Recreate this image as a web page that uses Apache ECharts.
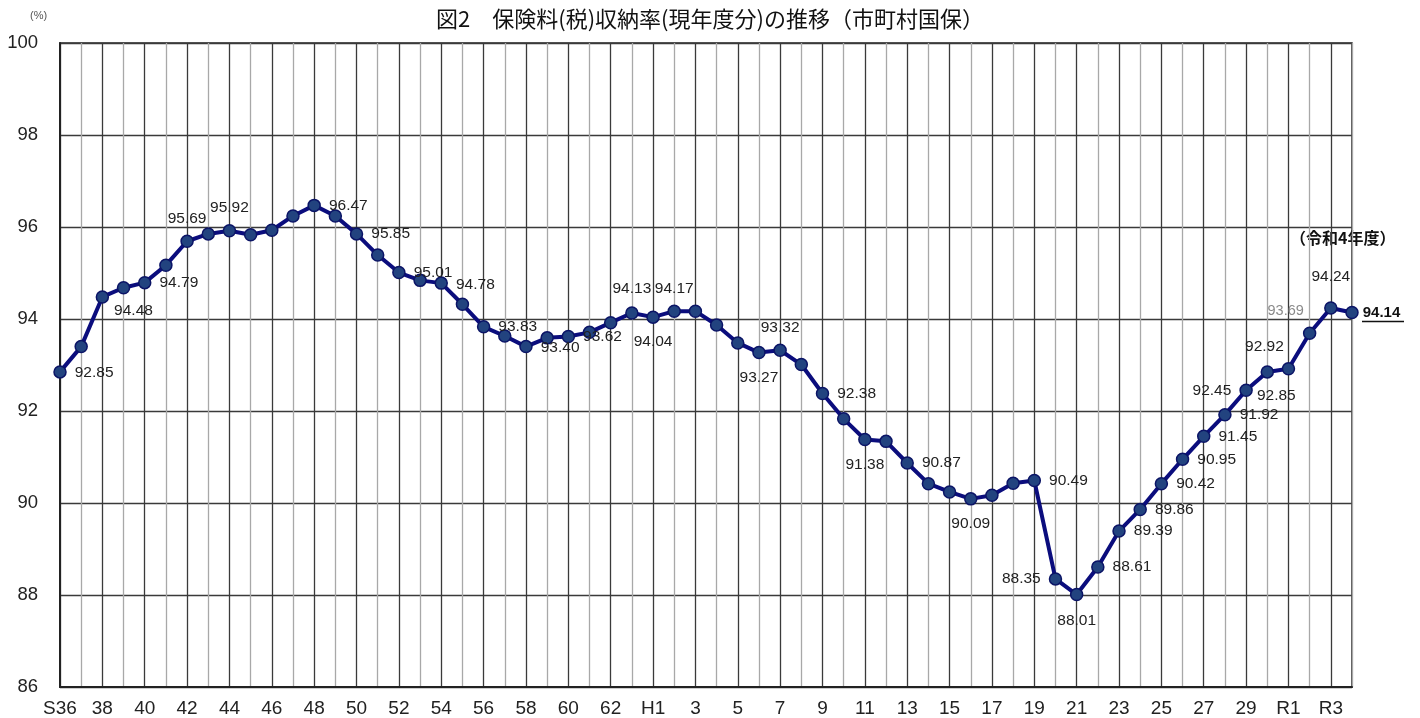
<!DOCTYPE html>
<html>
<head>
<meta charset="utf-8">
<script src="https://cdn.jsdelivr.net/npm/echarts@6/dist/echarts.min.js"></script>
<style>
html,body{margin:0;padding:0;background:#fff;}
#c{width:1420px;height:718px;}
</style>
</head>
<body>
<div id="c"></div>
<script>
// ---- data ----
const categories = [
  "S36","S37","S38","S39","S40","S41","S42","S43","S44","S45","S46","S47","S48","S49",
  "S50","S51","S52","S53","S54","S55","S56","S57","S58","S59","S60","S61","S62","S63",
  "H1","H2","H3","H4","H5","H6","H7","H8","H9","H10","H11","H12","H13","H14","H15",
  "H16","H17","H18","H19","H20","H21","H22","H23","H24","H25","H26","H27","H28","H29","H30",
  "R1","R2","R3","R4"
];
const tickLabels = [
  "S36","","38","","40","","42","","44","","46","","48","",
  "50","","52","","54","","56","","58","","60","","62","",
  "H1","","3","","5","","7","","9","","11","","13","","15",
  "","17","","19","","21","","23","","25","","27","","29","",
  "R1","","R3",""
];
const rates = [
  92.85, 93.40, 94.48, 94.68, 94.79, 95.17, 95.69, 95.85, 95.92, 95.83, 95.93, 96.24, 96.47, 96.24,
  95.85, 95.39, 95.01, 94.84, 94.78, 94.32, 93.83, 93.63, 93.40, 93.59, 93.62, 93.71, 93.92, 94.13,
  94.04, 94.17, 94.17, 93.87, 93.48, 93.27, 93.32, 93.01, 92.38, 91.83, 91.38, 91.34, 90.87, 90.42, 90.24,
  90.09, 90.17, 90.43, 90.49, 88.35, 88.01, 88.61, 89.39, 89.86, 90.42, 90.95, 91.45, 91.92, 92.45, 92.85,
  92.92, 93.69, 94.24, 94.14
];
const yTicks = [86, 88, 90, 92, 94, 96, 98, 100];
const titleText = "図2　保険料(税)収納率(現年度分)の推移（市町村国保）";
const noteText = "（令和4年度）";

// ---- label placement (style only) ----
const labelSpec = {
  0:['right',[0,1]], 2:['right',[-3,14]], 4:['right',[0,0]], 6:['top',[0,0]], 8:['top',[0,0]],
  12:['right',[0,0]], 14:['right',[0,0]], 16:['right',[0,0]], 18:['right',[0,2]], 20:['right',[0,0]],
  22:['right',[0,1]], 24:['right',[0,0]], 27:['top',[0,-2]], 28:['bottom',[0,0]], 29:['top',[0,0]],
  33:['bottom',[0,0]], 34:['top',[0,0]], 36:['right',[0,0]], 38:['bottom',[0,0]], 40:['right',[0,0]],
  43:['bottom',[0,0]], 46:['right',[0,0]], 47:['left',[0,0]], 48:['bottom',[0,1]], 49:['right',[0,0]],
  50:['right',[0,0]], 51:['right',[0,0]], 52:['right',[0,0]], 53:['right',[0,0]], 54:['right',[0,0]],
  55:['right',[0,0]], 56:['left',[0,0]], 57:['bottom',[9,-1]], 58:['top',[-24,1]], 59:['top',[-24,0]],
  60:['top',[0,-8]], 61:['right',[-4,0]]
};
const dist = {right:8, left:8, top:8, bottom:10};

const seriesData = rates.map((v, i) => {
  const s = labelSpec[i];
  if (!s) return {value: v, label: {show: false}};
  const lab = {
    show: true, position: s[0], distance: dist[s[0]], offset: s[1],
    formatter: (p) => p.value.toFixed(2),
    color: '#222', fontSize: 15.5, fontFamily: 'Liberation Sans, Arial, sans-serif'
  };
  if (i === 59) { lab.color = '#8a8a8a'; lab.fontSize = 14.5; }
  if (i === 61) { lab.fontWeight = 'bold'; lab.color = '#111'; lab.fontSize = 15; }
  return {value: v, label: lab};
});

const chart = echarts.init(document.getElementById('c'), null, {renderer: 'canvas'});
const baseGraphic = [
  {type: 'text', left: 30, top: 10, style: {text: '(%)', fontSize: 11, fill: '#555', fontFamily: 'Liberation Sans, sans-serif'}},
  {type: 'text', left: 1290, top: 230, style: {text: noteText, fontSize: 16, fontWeight: 'bold', fill: '#111', fontFamily: '"Noto Sans CJK JP", sans-serif'}}
];
chart.setOption({
  animation: false,
  backgroundColor: '#fff',
  title: {
    text: titleText, left: 'center', top: 3,
    textStyle: {fontFamily: '"Noto Sans CJK JP", sans-serif', fontSize: 22, fontWeight: 'normal', color: '#111'}
  },
  grid: {left: 60, right: 68, top: 43, bottom: 29, show: true, borderColor: '#222', borderWidth: 1.5, backgroundColor: 'transparent'},
  xAxis: {
    type: 'category', data: categories, boundaryGap: false,
    axisLine: {lineStyle: {color: '#222', width: 2}},
    axisTick: {show: false},
    axisLabel: {
      interval: 0, margin: 12, color: '#222', fontSize: 19,
      fontFamily: '"Liberation Sans Narrow", "Liberation Sans", Arial, sans-serif',
      formatter: (v, i) => tickLabels[i]
    },
    splitLine: {show: true, interval: 0, lineStyle: {color: ['#3a3a3a', '#a8a8a8'], width: 1.3}}
  },
  yAxis: {
    type: 'value', min: yTicks[0], max: yTicks[yTicks.length - 1], interval: 2,
    axisLine: {show: true, lineStyle: {color: '#222', width: 2}},
    axisTick: {show: false},
    axisLabel: {margin: 22, color: '#222', fontSize: 18.5, fontFamily: 'Liberation Sans, Arial, sans-serif'},
    splitLine: {show: true, lineStyle: {color: '#3a3a3a', width: 1.3}}
  },
  series: [{
    type: 'line', data: seriesData,
    symbol: 'circle', symbolSize: 12,
    lineStyle: {color: '#0b0d7d', width: 4},
    itemStyle: {color: '#22437f', borderColor: '#0b1466', borderWidth: 1.5},
    z: 5
  }],
  graphic: baseGraphic
});

// underline beneath the latest value label, placed via the library's own scale
const last = rates.length - 1;
const p = chart.convertToPixel({seriesIndex: 0}, [last, rates[last]]);
chart.setOption({
  graphic: baseGraphic.concat([
    {type: 'line', shape: {x1: p[0] + 10, y1: p[1] + 9, x2: p[0] + 52, y2: p[1] + 9}, style: {stroke: '#111', lineWidth: 1.5}}
  ])
});
</script>
</body>
</html>
